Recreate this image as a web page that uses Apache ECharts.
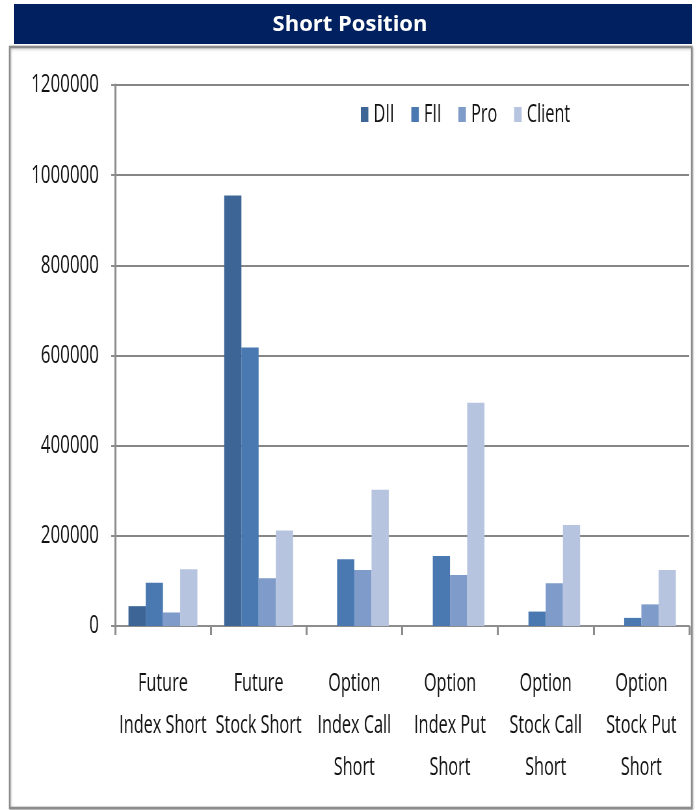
<!DOCTYPE html>
<html>
<head>
<meta charset="utf-8">
<style>
  html, body { margin: 0; padding: 0; background: #ffffff; }
  #wrap { position: relative; width: 699px; height: 810px; overflow: hidden; }
  /* the plot is laid out wide and narrowed horizontally, giving the condensed lettering */
  #chart { position: absolute; left: 0; top: 0; width: 1075px; height: 810px;
           transform: scaleX(0.6502); transform-origin: 0 0; }
  #title { position: absolute; left: 0; top: 0; width: 699px; height: 46px; }
</style>
<script src="https://cdn.jsdelivr.net/npm/echarts@6/dist/echarts.min.js"></script>
</head>
<body>
<div id="wrap">
  <div id="chart"></div>
  <div id="title"></div>
</div>
<script>
// Short positions by participant type
const categories = [
  'Future\nIndex Short',
  'Future\nStock Short',
  'Option\nIndex Call\nShort',
  'Option\nIndex Put\nShort',
  'Option\nStock Call\nShort',
  'Option\nStock Put\nShort'
];
const seriesNames = ['DII', 'FII', 'Pro', 'Client'];
const dii    = [44000, 955000, 0, 0, 0, 0];
const fii    = [96000, 618000, 148000, 155000, 32000, 18000];
const pro    = [30000, 106000, 124000, 113000, 95000, 48000];
const client = [126000, 212000, 302000, 495000, 224000, 124000];
const yTicks = { min: 0, max: 1200000, interval: 200000 };

const colors = ['#3d6697', '#4a79b1', '#7e9bc9', '#b6c4df'];
const font = "'Open Sans', 'Noto Sans', 'Liberation Sans', sans-serif";
const values = [dii, fii, pro, client];

// banner heading
const titleChart = echarts.init(document.getElementById('title'));
titleChart.setOption({
  animation: false,
  graphic: [
    { type: 'rect', shape: { x: 14, y: 4, width: 678, height: 40 }, style: { fill: '#00205f' } },
    {
      type: 'text', x: 350, y: 25,
      style: {
        text: 'Short Position', fill: '#ffffff',
        font: "bold 22px 'Open Sans', 'Liberation Sans', sans-serif",
        textAlign: 'center', textVerticalAlign: 'middle'
      }
    }
  ]
});

// bar chart
const chart = echarts.init(document.getElementById('chart'));
chart.setOption({
  animation: false,
  color: colors,
  graphic: [
    {
      type: 'rect', z: -10,
      shape: { x: 15, y: 47, width: 1049, height: 761 },
      style: { fill: '#ffffff', stroke: '#8c8c8c', lineWidth: 2.5,
               shadowColor: 'rgba(0,0,0,0.25)', shadowBlur: 3, shadowOffsetX: 1, shadowOffsetY: 1 }
    }
  ],
  legend: {
    data: seriesNames,
    top: 97,
    left: 550,
    itemWidth: 11.5,
    itemHeight: 15,
    itemGap: 26,
    icon: 'rect',
    textStyle: { fontFamily: font, fontSize: 25, color: '#111111', padding: [0, 0, 0, 3] }
  },
  grid: { left: 177, right: 15, top: 85, bottom: 184, containLabel: false },
  xAxis: {
    type: 'category',
    data: categories,
    axisLine: { lineStyle: { color: '#8c8c8c', width: 2 } },
    axisTick: { show: true, length: 9, alignWithLabel: false, lineStyle: { color: '#8c8c8c', width: 3 } },
    axisLabel: {
      interval: 0,
      margin: 37,
      fontFamily: font,
      fontSize: 25,
      lineHeight: 42,
      color: '#111111',
      align: 'center'
    }
  },
  yAxis: {
    type: 'value',
    min: yTicks.min,
    max: yTicks.max,
    interval: yTicks.interval,
    axisLine: { show: true, lineStyle: { color: '#8c8c8c', width: 3 } },
    axisTick: { show: true, length: 6, lineStyle: { color: '#8c8c8c', width: 2 } },
    splitLine: { lineStyle: { color: '#868686', width: 2 } },
    axisLabel: {
      margin: 25,
      fontFamily: font,
      fontSize: 26,
      color: '#111111',
      formatter: (v) => String(v)
    }
  },
  series: seriesNames.map((name, i) => ({
    name,
    type: 'bar',
    data: values[i],
    barGap: '0%',
    barCategoryGap: '28%',
    itemStyle: { color: colors[i] }
  }))
});
</script>
</body>
</html>
